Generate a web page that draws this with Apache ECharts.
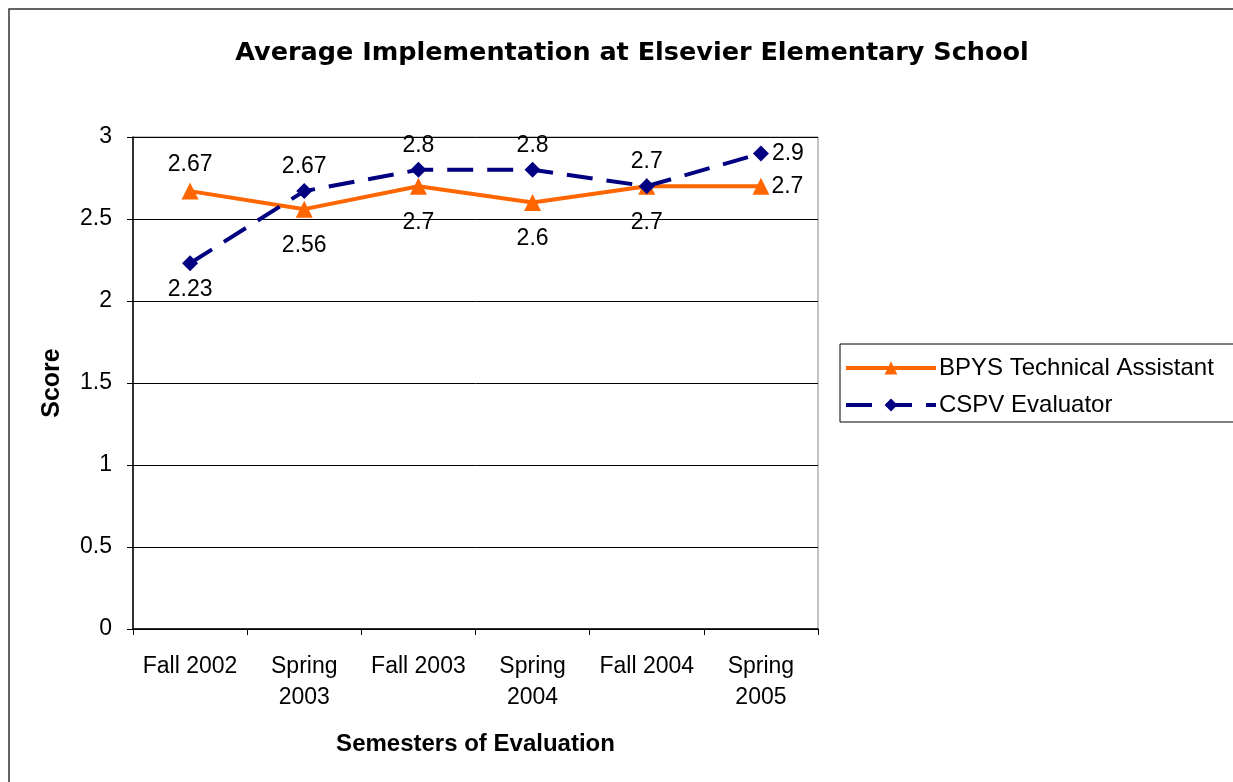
<!DOCTYPE html>
<html>
<head>
<meta charset="utf-8">
<script src="https://cdn.jsdelivr.net/npm/echarts@6/dist/echarts.min.js"></script>
<style>
  html, body { margin: 0; padding: 0; background: #fff; }
  #main { width: 1233px; height: 782px; }
</style>
</head>
<body>
<div id="main"></div>
<script>
// semesters and the two rating series
var semesters = ['Fall 2002', 'Spring\n2003', 'Fall 2003', 'Spring\n2004', 'Fall 2004', 'Spring\n2005'];
var bpysScores = [2.67, 2.56, 2.7, 2.6, 2.7, 2.7];
var cspvScores = [2.23, 2.67, 2.8, 2.8, 2.7, 2.9];
var bpysLabelPos = ['top', 'bottom', 'bottom', 'bottom', 'bottom', 'right'];
var cspvLabelPos = ['bottom', 'top', 'top', 'top', 'top', 'right'];

var font = 'Liberation Sans, Arial, sans-serif';

// label distance depends on which side it sits
function withLabels(values, positions, gaps) {
    var out = [];
    for (var i = 0; i < values.length; i++) {
        out.push({ value: values[i], label: { position: positions[i], distance: gaps[positions[i]] } });
    }
    return out;
}

var myChart = echarts.init(document.getElementById('main'));

var option = {
    animation: false,
    backgroundColor: '#fff',
    title: {
        text: 'Average Implementation at Elsevier Elementary School',
        left: 627,
        textAlign: 'center',
        top: 35,
        textStyle: { fontFamily: 'DejaVu Sans', fontSize: 25.5, fontWeight: 'bold', color: '#000' }
    },
    graphic: [{
        type: 'rect',
        shape: { x: 9, y: 9, width: 1240, height: 790 },
        style: { fill: 'none', stroke: '#333', lineWidth: 1.5 },
        silent: true
    }],
    legend: {
        orient: 'vertical',
        left: 840,
        top: 344,
        itemWidth: 90,
        itemHeight: 16,
        itemGap: 13,
        padding: [12, 20, 5, 4],
        borderColor: '#000',
        borderWidth: 1,
        lineStyle: { width: 4 },
        textStyle: { fontFamily: font, fontSize: 24, color: '#000', padding: [0, 0, 0, -2] },
        data: ['BPYS Technical Assistant', 'CSPV Evaluator']
    },
    grid: {
        left: 133, right: 415, top: 137, bottom: 153,
        show: true, borderColor: '#888', borderWidth: 1
    },
    xAxis: {
        type: 'category',
        data: semesters,
        boundaryGap: true,
        name: 'Semesters of Evaluation',
        nameLocation: 'middle',
        nameGap: 103,
        nameTextStyle: { fontFamily: font, fontSize: 24, fontWeight: 'bold', color: '#000' },
        axisLine: { lineStyle: { color: '#000', width: 1.5 } },
        axisTick: { show: true, length: 6, lineStyle: { color: '#000' } },
        axisLabel: { fontFamily: font, fontSize: 23, color: '#000', margin: 22, lineHeight: 31, interval: 0 }
    },
    yAxis: {
        type: 'value',
        min: 0, max: 3, interval: 0.5,
        name: 'Score',
        nameLocation: 'middle',
        nameGap: 68,
        nameRotate: 90,
        nameTextStyle: { fontFamily: font, fontSize: 25, fontWeight: 'bold', color: '#000' },
        axisLine: { show: true, lineStyle: { color: '#000', width: 1.5 } },
        axisTick: { show: true, length: 6, lineStyle: { color: '#000' } },
        axisLabel: { fontFamily: font, fontSize: 23, color: '#000', margin: 21 },
        splitLine: { lineStyle: { color: '#000', width: 1 } }
    },
    series: [{
        name: 'BPYS Technical Assistant',
        type: 'line',
        data: withLabels(bpysScores, bpysLabelPos, { top: 6, bottom: 16, right: 2 }),
        symbol: 'triangle',
        symbolSize: 17,
        itemStyle: { color: '#FF6600' },
        lineStyle: { color: '#FF6600', width: 4 },
        label: { show: true, fontFamily: font, fontSize: 23, color: '#000' },
        z: 2
    }, {
        name: 'CSPV Evaluator',
        type: 'line',
        data: withLabels(cspvScores, cspvLabelPos, { top: 5, bottom: 7, right: 3 }),
        symbol: 'diamond',
        symbolSize: 16,
        itemStyle: { color: '#000080' },
        lineStyle: { color: '#000080', width: 4, type: [26, 14] },
        label: { show: true, fontFamily: font, fontSize: 23, color: '#000' },
        z: 3
    }]
};

myChart.setOption(option);
</script>
</body>
</html>
